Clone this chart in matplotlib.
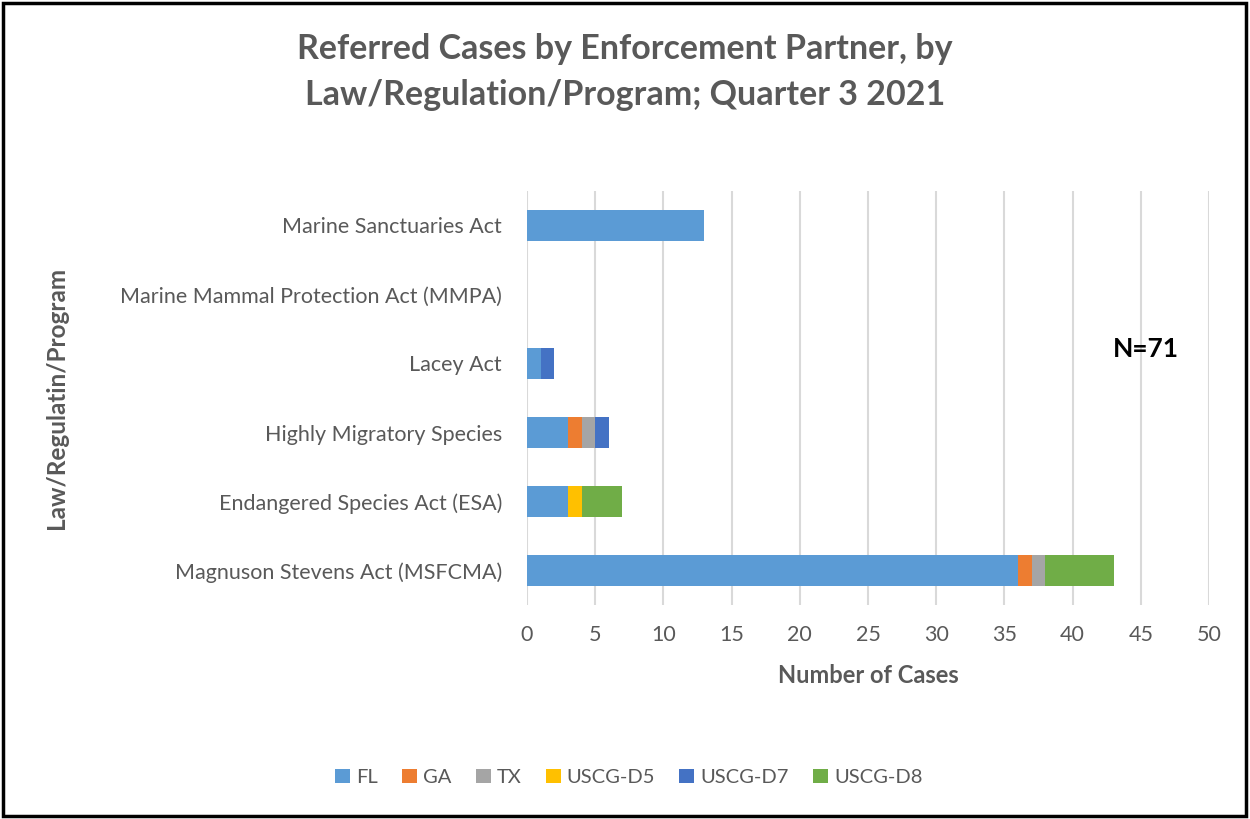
import matplotlib.pyplot as plt
from matplotlib.patches import Rectangle

plt.rcParams['font.family'] = ['Lato', 'DejaVu Sans']

# categories from bottom to top
laws = ['Magnuson Stevens Act (MSFCMA)', 'Endangered Species Act (ESA)',
        'Highly Migratory Species', 'Lacey Act',
        'Marine Mammal Protection Act (MMPA)', 'Marine Sanctuaries Act']
partners = ['FL', 'GA', 'TX', 'USCG-D5', 'USCG-D7', 'USCG-D8']
fl = [36, 3, 3, 1, 0, 13]
ga = [1, 0, 1, 0, 0, 0]
tx = [1, 0, 1, 0, 0, 0]
d5 = [0, 1, 0, 0, 0, 0]
d7 = [0, 0, 1, 1, 0, 0]
d8 = [5, 3, 0, 0, 0, 0]
series = [fl, ga, tx, d5, d7, d8]
colors = ['#5B9BD5', '#ED7D31', '#A5A5A5', '#FFC000', '#4472C4', '#70AD47']

txt = '#595959'
fig = plt.figure(figsize=(12.5, 8.19), dpi=100)
ax = fig.add_axes([0.4216, 0.261, 0.5456, 0.506])

left = [0] * len(laws)
for vals, name, c in zip(series, partners, colors):
    ax.barh(laws, vals, left=left, height=0.45, color=c, label=name, zorder=3)
    left = [a + b for a, b in zip(left, vals)]

ax.set_xlim(0, 50)
ax.set_ylim(-0.5, 5.5)
ax.set_xticks(range(0, 51, 5))
ax.grid(axis='x', color='#D9D9D9', linewidth=1.5, zorder=0)
for s in ax.spines.values():
    s.set_visible(False)
ax.tick_params(length=0, labelsize=15.5, colors=txt)
ax.tick_params(axis='y', pad=18)
ax.tick_params(axis='x', pad=14)

ax.set_xlabel('Number of Cases', fontsize=17, fontweight='bold', color=txt, labelpad=14)
fig.text(0.045, 0.514, 'Law/Regulatin/Program', rotation=90, fontsize=17.5,
         fontweight='bold', color=txt, ha='center', va='center')
fig.text(0.5, 0.912, 'Referred Cases by Enforcement Partner, by\nLaw/Regulation/Program; Quarter 3 2021',
         ha='center', va='center', fontsize=24.5, fontweight='bold', color=txt, linespacing=1.55)
fig.text(0.917, 0.574, 'N=71', fontsize=19, fontweight='bold', color='black', ha='center', va='center')

fig.legend(loc='center', bbox_to_anchor=(0.503, 0.051), ncol=6, frameon=False,
           fontsize=14.5, labelcolor=txt, handlelength=0.75, handleheight=0.75,
           handletextpad=0.3, columnspacing=1.2)

fig.patches.append(Rectangle((0.002, 0.004), 0.995, 0.992, transform=fig.transFigure,
                             fill=False, edgecolor='black', linewidth=2.5))

fig.savefig('out.png', dpi=100)
